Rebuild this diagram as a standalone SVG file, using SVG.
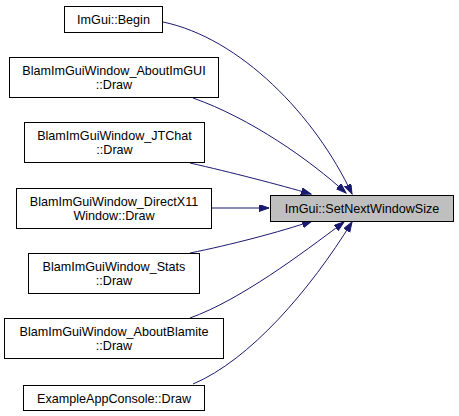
<svg xmlns="http://www.w3.org/2000/svg" width="459" height="416" viewBox="0 0 459 416">
<style>
.n rect{fill:#ffffff;stroke:#000000;stroke-width:1}
.t rect{fill:#bfbfbf;stroke:#000000;stroke-width:1}
text{font-family:"Liberation Sans",Arial,sans-serif;font-size:12.6px;text-anchor:middle;fill:#000000}
.e path{fill:none;stroke:#191970;stroke-width:1;marker-end:url(#ah)}
</style>
<defs>
<marker id="ah" markerUnits="userSpaceOnUse" markerWidth="11" markerHeight="8" refX="10" refY="3.5" orient="auto">
<path d="M0,0 L10,3.5 L0,7 z" fill="#191970" stroke="#191970" stroke-width="1"/>
</marker>
</defs>
<rect width="459" height="416" fill="#ffffff"/>
<g class="e" id="edges">
<path d="M163,22 C240,38 315,115 352,194"/>
<path d="M193,98 C250,118 310,160 346,193"/>
<path d="M190,163 C230,172 280,185 311,194"/>
<path d="M211,208 L269,208"/>
<path d="M190,253 C230,245 280,232 312,221"/>
<path d="M190,318 C240,300 300,255 344,222"/>
<path d="M193,384 C250,360 310,290 352,222"/>
</g>
<g class="t" id="target"><rect x="270.5" y="195.5" width="183" height="26"/><text x="362" y="213">ImGui::SetNextWindowSize</text></g>
<g class="n" id="n_begin"><rect x="64.5" y="6.5" width="98" height="26"/><text x="113.5" y="24">ImGui::Begin</text></g>
<g class="n" id="n_aboutimgui"><rect x="9.5" y="57.5" width="209" height="40"/><text x="114" y="75">BlamImGuiWindow_AboutImGUI</text><text x="114" y="89">::Draw</text></g>
<g class="n" id="n_jtchat"><rect x="24.5" y="122.5" width="180" height="40"/><text x="114.5" y="140">BlamImGuiWindow_JTChat</text><text x="114.5" y="154">::Draw</text></g>
<g class="n" id="n_directx"><rect x="16.5" y="188.5" width="195" height="40"/><text x="114" y="206">BlamImGuiWindow_DirectX11</text><text x="114" y="220">Window::Draw</text></g>
<g class="n" id="n_stats"><rect x="28.5" y="253.5" width="171" height="40"/><text x="114" y="271">BlamImGuiWindow_Stats</text><text x="114" y="285">::Draw</text></g>
<g class="n" id="n_blamite"><rect x="4.5" y="318.5" width="219" height="40"/><text x="114" y="336">BlamImGuiWindow_AboutBlamite</text><text x="114" y="350">::Draw</text></g>
<g class="n" id="n_console"><rect x="23.5" y="385.5" width="181" height="25"/><text x="114" y="402.5">ExampleAppConsole::Draw</text></g>
</svg>
